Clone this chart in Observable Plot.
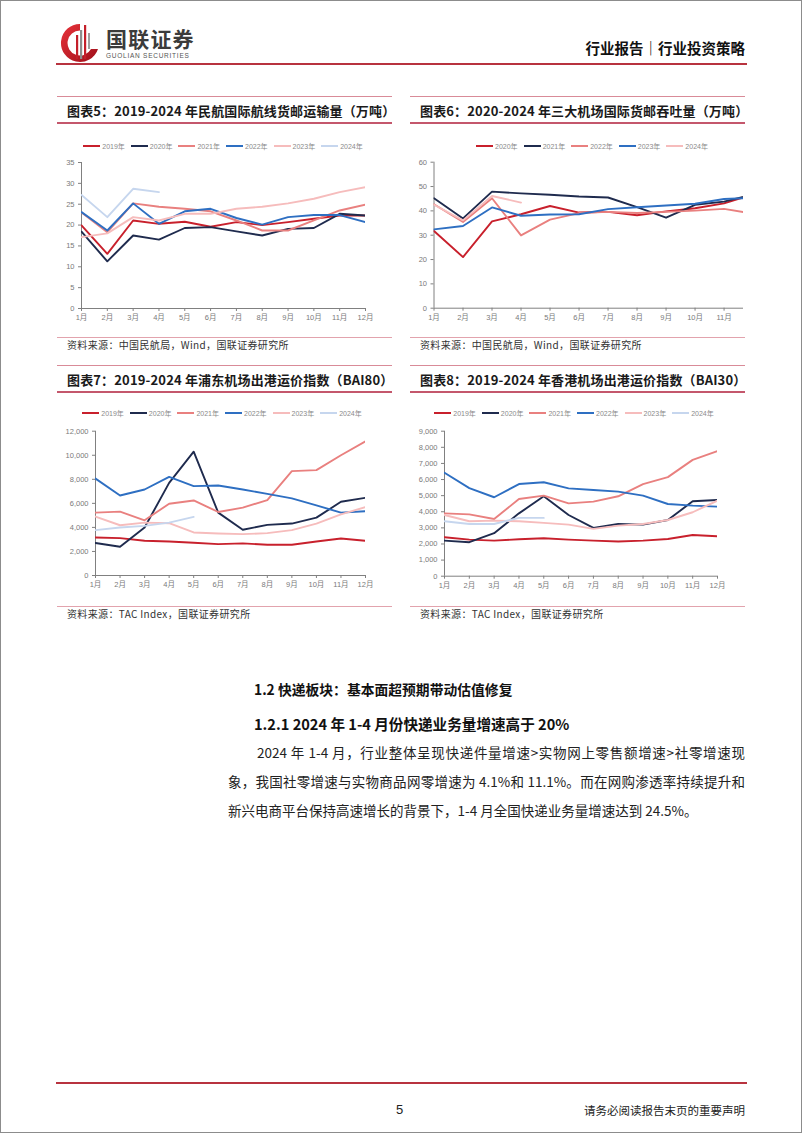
<!DOCTYPE html>
<html><head><meta charset="utf-8">
<script src="https://cdn.jsdelivr.net/npm/d3@7"></script>
<script src="https://cdn.jsdelivr.net/npm/@observablehq/plot@0.6"></script>
<style>
body{margin:0;background:#fff;}
#page{position:relative;width:802px;height:1133px;overflow:hidden;font-family:"Noto Sans CJK SC","Noto Sans",sans-serif;color:#222;background:#fff;}
.abs{position:absolute;white-space:nowrap;}
.title{font-size:13px;font-weight:700;line-height:18px;color:#1a1a1a;letter-spacing:0.15px;}
.src{font-size:10px;line-height:12px;color:#333;letter-spacing:0.35px;}
.hl{position:absolute;}
.legend{position:absolute;display:flex;justify-content:center;align-items:center;height:10px;}
.li{display:flex;align-items:center;font-family:"Liberation Sans","Noto Sans CJK SC",sans-serif;font-size:7px;color:#8a8a8a;margin:0 3px;}
.sw{width:17px;height:2px;margin-right:2px;}
.para{position:absolute;font-size:13.5px;line-height:20px;color:#222;white-space:nowrap;}
.just{text-align:justify;text-align-last:justify;white-space:normal;}
</style></head>
<body><div id="page"></div>
<script>
// ---------- data ----------
const months = ["1月","2月","3月","4月","5月","6月","7月","8月","9月","10月","11月","12月"];
const years6 = ["2019年","2020年","2021年","2022年","2023年","2024年"];
const years5 = ["2020年","2021年","2022年","2023年","2024年"];

// 图表5 民航国际航线货邮运输量（万吨）
const c5_2019 = [19.9,13.1,21.1,20.3,20.8,19.6,20.7,20.0,20.7,21.5,22.3,22.3];
const c5_2020 = [18.4,11.3,17.5,16.5,19.3,19.5,18.5,17.5,19.1,19.3,22.7,22.3];
const c5_2021 = [23.0,18.3,25.2,24.4,23.9,23.3,21.1,18.7,18.7,21.1,23.5,24.9];
const c5_2022 = [23.1,18.7,25.2,20.3,23.3,23.9,21.7,20.1,21.9,22.4,22.4,20.7];
const c5_2023 = [17.1,18.0,21.9,21.1,22.7,22.7,23.9,24.4,25.2,26.3,27.9,29.1];
const c5_2024 = [27.2,21.9,28.7,27.9];

// 图表6 三大机场国际货邮吞吐量（万吨）
const c6_2020 = [31.7,21.0,35.7,38.6,42.0,39.3,39.6,38.2,39.8,41.1,43.1,46.7];
const c6_2021 = [45.2,36.9,47.9,47.2,46.6,45.9,45.5,41.5,37.2,42.5,43.8,46.8];
const c6_2022 = [42.7,35.4,45.2,29.9,36.4,39.1,39.6,39.1,39.6,40.1,40.8,38.9];
const c6_2023 = [32.4,33.8,41.4,38.0,38.5,38.6,40.7,41.5,42.2,42.9,44.9,45.3];
const c6_2024 = [42.5,36.1,46.1,43.4];

// 图表7 浦东机场出港运价指数（BAI80）
const c7_2019 = [3160,3110,2890,2830,2720,2610,2670,2560,2560,2830,3080,2890];
const c7_2020 = [2700,2390,3990,7700,10300,5230,3800,4210,4320,4810,6130,6460];
const c7_2021 = [5230,5310,4590,5970,6240,5280,5640,6270,8680,8760,10000,11150];
const c7_2022 = [8060,6650,7150,8200,7430,7480,7150,6790,6410,5830,5230,5340];
const c7_2023 = [4900,4180,4400,4350,3580,3490,3440,3520,3770,4320,5090,5690];
const c7_2024 = [3770,3990,4130,4400,4870];

// 图表8 香港机场出港运价指数（BAI30）
const c8_2019 = [2420,2270,2210,2290,2360,2270,2210,2150,2210,2310,2560,2480];
const c8_2020 = [2210,2110,2670,3900,4960,3800,3000,3240,3200,3490,4650,4730];
const c8_2021 = [3900,3840,3550,4790,5000,4520,4630,4960,5720,6150,7220,7760];
const c8_2022 = [6420,5470,4900,5720,5830,5450,5350,5250,5000,4480,4380,4320];
const c8_2023 = [3800,3410,3450,3410,3310,3200,2940,3140,3240,3490,3970,4690];
const c8_2024 = [3410,3240,3240,3620,3620];

const c5Ticks = [0,5,10,15,20,25,30,35];
const c6Ticks = [0,10,20,30,40,50,60];
const c7Ticks = [0,2000,4000,6000,8000,10000,12000];
const c8Ticks = [0,1000,2000,3000,4000,5000,6000,7000,8000,9000];

const titles = [
  "图表5：2019-2024 年民航国际航线货邮运输量（万吨）",
  "图表6：2020-2024 年三大机场国际货邮吞吐量（万吨）",
  "图表7：2019-2024 年浦东机场出港运价指数（BAI80）",
  "图表8：2019-2024 年香港机场出港运价指数（BAI30）"
];
const sources = [
  "资料来源：中国民航局，Wind，国联证券研究所",
  "资料来源：中国民航局，Wind，国联证券研究所",
  "资料来源：TAC Index，国联证券研究所",
  "资料来源：TAC Index，国联证券研究所"
];

const palette6 = ["#c8202c","#1f2b4e","#e9807f","#2e6fc2","#f6bcbc","#c6d6ee"];
const palette5 = ["#c8202c","#1f2b4e","#e9807f","#2e6fc2","#f6bcbc"];

// ---------- helpers ----------
const page = document.getElementById("page");
function el(tag, cls, style, text){
  const e = document.createElement(tag);
  if (cls) e.className = cls;
  Object.assign(e.style, style||{});
  if (text != null) e.textContent = text;
  page.appendChild(e);
  return e;
}
function hline(left, top, width, h, color){ el("div","hl",{left:left+"px",top:top+"px",width:width+"px",height:h+"px",background:color}); }

function legend(names, colors, center, top){
  const lg = el("div","legend",{left:(center-200)+"px",width:"400px",top:(top-5)+"px"});
  names.forEach((n,i)=>{
    const it = document.createElement("div"); it.className="li";
    const sw = document.createElement("div"); sw.className="sw"; sw.style.background=colors[i];
    const tx = document.createElement("span"); tx.textContent=n;
    it.appendChild(sw); it.appendChild(tx); lg.appendChild(it);
  });
}

function chart(o){
  const table = o.series.flatMap((vals,k)=>vals.map((v,i)=>({s:o.names[k], m:i+1, v})));
  const svg = Plot.plot({
    width:o.width, height:o.height,
    marginLeft:o.ml, marginRight:o.mr, marginTop:o.mt, marginBottom:o.mb,
    style:{fontFamily:'"Liberation Sans","Noto Sans CJK SC",sans-serif',fontSize:"7.5px",color:"#7a7a7a",background:"transparent",overflow:"visible"},
    x:{domain:o.xDomain, axis:null},
    y:{domain:o.yDomain, axis:null},
    color:{domain:o.names, range:o.colors},
    marks:[
      Plot.axisY({ticks:o.yTicks, tickFormat:o.yFmt, tickSize:3, tickPadding:4, fontSize:7.5, stroke:"#808080", label:null}),
      Plot.axisX({ticks:d3.range(1,o.nx+1), tickFormat:d=>months[d-1], tickSize:3, tickPadding:3, fontSize:7.5, stroke:"#808080", label:null}),
      Plot.ruleX([1],{stroke:"#808080",strokeWidth:1}),
      Plot.ruleY([0],{stroke:"#808080",strokeWidth:1}),
      Plot.line(table,{x:"m",y:"v",z:"s",stroke:"s",strokeWidth:1.9,clip:true})
    ]
  });
  svg.style.position="absolute"; svg.style.left=o.left+"px"; svg.style.top=o.top+"px";
  page.appendChild(svg);
}

function block(i, x0, y0){
  const lx = x0, lw = 335;
  hline(lx, 96+y0, lw, 1, "#d98b98");
  el("div","abs title",{left:(lx+10)+"px",top:(101.5+y0)+"px"}, titles[i]);
  hline(lx, 122+y0, lw, 2, "#c4576c");
  hline(lx, 337+y0, lw, 1, "#e2a3ad");
  el("div","abs src",{left:(lx+10)+"px",top:(339+y0)+"px"}, sources[i]);
}

// ---------- header ----------
const logo = el("div","abs",{left:"58px",top:"21px"});
logo.innerHTML = `<svg width="44" height="44" viewBox="0 0 44 44">
 <defs><linearGradient id="lg1" x1="0" y1="0" x2="1" y2="1"><stop offset="0" stop-color="#e8323a"/><stop offset="1" stop-color="#9e0f1a"/></linearGradient></defs>
 <path d="M22 3 A19 19 0 1 0 40 28 L33 28 A12.5 12.5 0 1 1 22 9.5 Z" fill="url(#lg1)"/>
 <rect x="18" y="14" width="2.2" height="24" fill="#c41f2a"/>
 <rect x="22" y="9" width="2.2" height="29" fill="#8e8e8e"/>
 <rect x="26" y="4" width="2.2" height="34" fill="#c41f2a"/>
 <rect x="30" y="12" width="2" height="16" fill="#a0a0a0"/>
</svg>`;
el("div","abs",{left:"106px",top:"27px",fontSize:"21px",fontWeight:"700",color:"#3b3b3b",lineHeight:"22px",letterSpacing:"1.2px"},"国联证券");
el("div","abs",{left:"106px",top:"52px",fontSize:"6.5px",color:"#555",fontFamily:'"Liberation Sans",sans-serif',letterSpacing:"0.75px",lineHeight:"7px"},"GUOLIAN SECURITIES");
el("div","abs",{right:"57px",top:"38px",fontSize:"14.5px",fontWeight:"700",color:"#111",lineHeight:"20px"},"行业报告｜行业投资策略");
hline(56, 63, 691, 1.5, "#b8333f");

// ---------- charts ----------
block(0, 57, 0);
block(1, 410, 0);
block(2, 57, 269);
block(3, 410, 269);

legend(years6, palette6, 223, 146);
legend(years5, palette5, 592, 146);
legend(years6, palette6, 222, 413);
legend(years6, palette6, 574, 413);

chart({series:[c5_2019,c5_2020,c5_2021,c5_2022,c5_2023,c5_2024], names:years6, colors:palette6,
  yDomain:[0,35], yTicks:c5Ticks, yFmt:d3.format("d"), xDomain:[1,12], nx:12,
  left:40, top:150, width:340, height:180, ml:41, mr:15, mt:12, mb:22});
chart({series:[c6_2020,c6_2021,c6_2022,c6_2023,c6_2024], names:years5, colors:palette5,
  yDomain:[0,60], yTicks:c6Ticks, yFmt:d3.format("d"), xDomain:[1,11.67], nx:11,
  left:390, top:150, width:360, height:180, ml:43.5, mr:7, mt:11.7, mb:22.3});
chart({series:[c7_2019,c7_2020,c7_2021,c7_2022,c7_2023,c7_2024], names:years6, colors:palette6,
  yDomain:[0,12000], yTicks:c7Ticks, yFmt:d3.format(","), xDomain:[1,12], nx:12,
  left:40, top:420, width:340, height:180, ml:55, mr:15, mt:10.7, mb:25});
chart({series:[c8_2019,c8_2020,c8_2021,c8_2022,c8_2023,c8_2024], names:years6, colors:palette6,
  yDomain:[0,9000], yTicks:c8Ticks, yFmt:d3.format(","), xDomain:[1,12], nx:12,
  left:390, top:420, width:340, height:180, ml:54, mr:13, mt:10.7, mb:24.3});

// ---------- text section ----------
el("div","abs",{left:"254px",top:"679px",fontSize:"13.8px",fontWeight:"700",color:"#111",lineHeight:"20px"},"1.2 快递板块：基本面超预期带动估值修复");
el("div","abs",{left:"254px",top:"713px",fontSize:"14.6px",fontWeight:"700",color:"#111",lineHeight:"22px"},"1.2.1 2024 年 1-4 月份快递业务量增速高于 20%");
el("div","para just",{left:"257px",top:"742px",width:"488px"},"2024 年 1-4 月，行业整体呈现快递件量增速>实物网上零售额增速>社零增速现");
el("div","para just",{left:"228px",top:"771px",width:"517px"},"象，我国社零增速与实物商品网零增速为 4.1%和 11.1%。而在网购渗透率持续提升和");
el("div","para",{left:"228px",top:"800px"},"新兴电商平台保持高速增长的背景下，1-4 月全国快递业务量增速达到 24.5%。");

// ---------- footer ----------
hline(56, 1082, 691, 1.5, "#b8333f");
el("div","abs",{left:"396px",top:"1101px",fontSize:"13px",color:"#222",lineHeight:"18px",fontFamily:'"Liberation Sans",sans-serif'},"5");
el("div","abs",{right:"57px",top:"1102px",fontSize:"11.5px",color:"#222",lineHeight:"16px"},"请务必阅读报告末页的重要声明");

const frame = el("div",null,{position:"absolute",left:"0",top:"0",width:"802px",height:"1133px",boxSizing:"border-box",border:"1px solid #8c8c8c",pointerEvents:"none"});
</script>
</body></html>
